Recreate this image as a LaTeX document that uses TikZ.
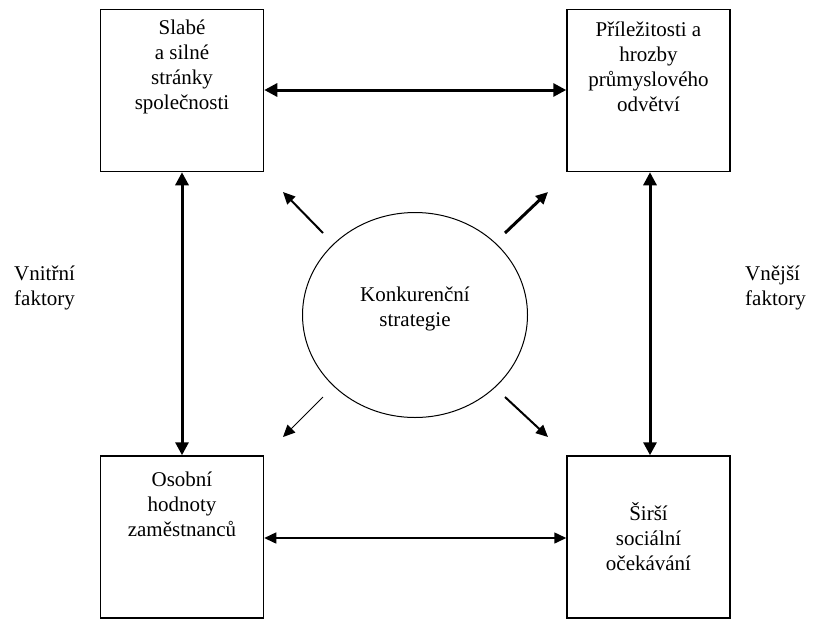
\documentclass[tikz,border=0pt]{standalone}
\usepackage{fontspec}
\setmainfont{Liberation Serif}
\usetikzlibrary{arrows.meta,shapes.geometric}
\begin{document}
\begin{tikzpicture}[x=1pt,y=-1pt,
  box/.style={draw,line width=1.5pt,minimum width=163pt,minimum height=162pt,inner sep=0pt},
  txt/.style={align=center,font=\fontsize{21}{25}\selectfont,inner sep=0pt},
  side/.style={align=left,font=\fontsize{21}{25}\selectfont,inner sep=0pt,anchor=west},
  harr/.style={{Triangle[length=13pt,width=13pt]}-{Triangle[length=13pt,width=13pt]}},
  larr/.style={{Triangle[length=12pt,width=11pt]}-{Triangle[length=12pt,width=11pt]}},
  onearr/.style={-{Triangle[length=12pt,width=11pt]}}]
\fill[white] (0,0) rectangle (813,619);
\useasboundingbox (0,0) rectangle (813,619);
% boxes
\node[box] (tl) at (182,90.5) {};
\node[box] (tr) at (648.5,90.5) {};
\node[box] (bl) at (182,537) {};
\node[box] (br) at (648.5,537) {};
% box texts
\node[txt] (tlt) at (182,67) {Slabé\\a silné\\stránky\\společnosti};
\node[txt] (trt) at (648.5,67) {Příležitosti a\\hrozby\\průmyslového\\odvětví};
\node[txt] (blt) at (182,504) {Osobní\\hodnoty\\zaměstnanců};
\node[txt] (brt) at (648.5,537) {Širší\\sociální\\očekávání};
% side labels
\node[side] (vn) at (14,288) {Vnitřní\\faktory};
\node[side] (ve) at (745,288) {Vnější\\faktory};
% ellipse
\node[ellipse,draw,line width=1pt,minimum width=225pt,minimum height=205pt,inner sep=0pt] (c) at (415,315) {};
\node[txt] (ct) at (415,309) {Konkurenční\\strategie};
% connectors
\draw[harr,line width=3pt] (tl.east |- 0,90) -- (tr.west |- 0,90);
\draw[larr,line width=1.5pt] (bl.east |- 0,538) -- (br.west |- 0,538);
\draw[harr,line width=3pt] (tl.south -| 182,0) -- (bl.north -| 182,0);
\draw[harr,line width=3pt] (tr.south -| 650,0) -- (br.north -| 650,0);
% diagonal arrows
\coordinate (nwa) at (323,233); \coordinate (nwb) at (283,192);
\coordinate (nea) at (505,233); \coordinate (neb) at (548,192);
\coordinate (swa) at (323,397); \coordinate (swb) at (283,437);
\coordinate (sea) at (505,397); \coordinate (seb) at (548,437);
\draw[onearr,line width=2pt] (nwa) -- (nwb);
\draw[onearr,line width=3pt] (nea) -- (neb);
\draw[onearr,line width=1pt] (swa) -- (swb);
\draw[onearr,line width=2pt] (sea) -- (seb);
\end{tikzpicture}
\end{document}
